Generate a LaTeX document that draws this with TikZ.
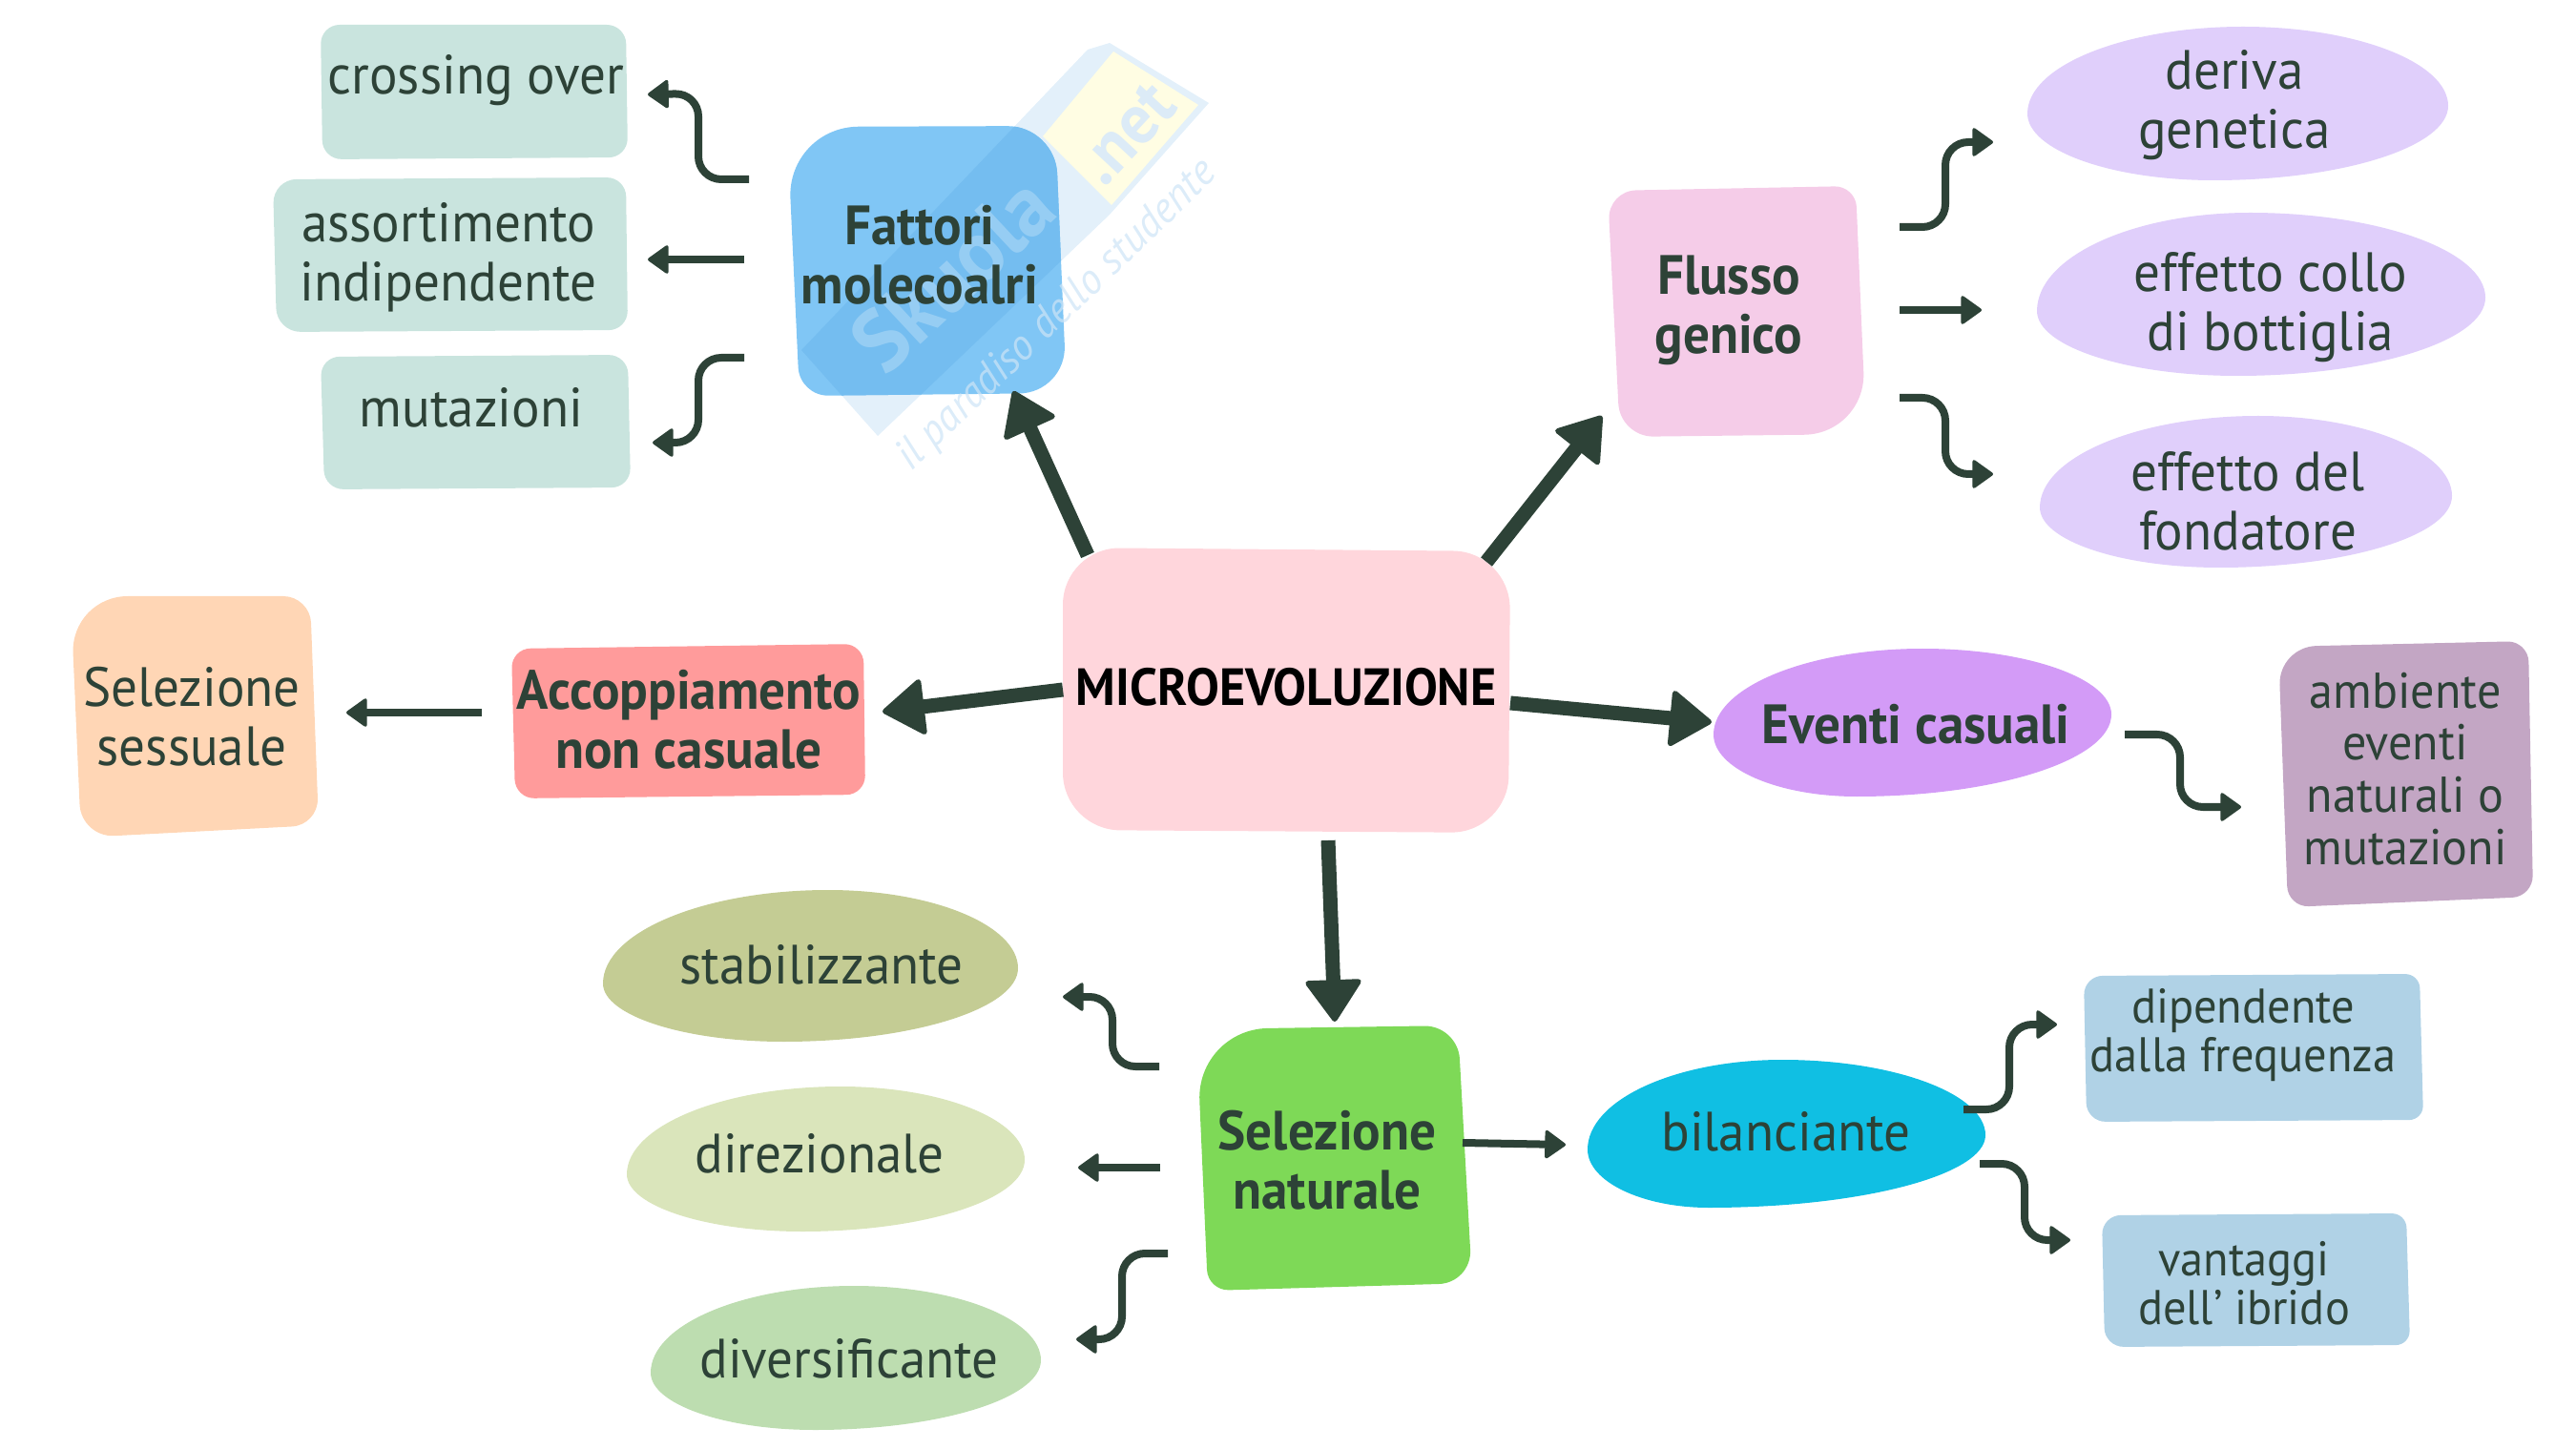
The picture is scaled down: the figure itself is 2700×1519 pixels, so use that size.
\documentclass[tikz,border=0pt]{standalone}
\usepackage{fontspec}
\setmainfont{PT Sans}[FakeStretch=0.95]
\usetikzlibrary{arrows.meta,calc}
\definecolor{ink}{HTML}{2D4237}
\definecolor{mint}{HTML}{C9E4DE}
\definecolor{cfat}{HTML}{80C6F5}
\definecolor{cfatd}{HTML}{74BDF0}
\definecolor{cflu}{HTML}{F5CCE8}
\definecolor{cmic}{HTML}{FFD6DC}
\definecolor{clil}{HTML}{E0CFFB}
\definecolor{ceve}{HTML}{D39BF7}
\definecolor{cacc}{HTML}{FF9B9B}
\definecolor{csns}{HTML}{FFD6B5}
\definecolor{camb}{HTML}{C3A6C4}
\definecolor{cblu}{HTML}{B0D2E6}
\definecolor{cbil}{HTML}{10BFE3}
\definecolor{cnat}{HTML}{7ED957}
\definecolor{csta}{HTML}{C4CC94}
\definecolor{cdir}{HTML}{DAE5BB}
\definecolor{cdvr}{HTML}{BDDDB0}
\definecolor{wmb}{HTML}{E3F0FA}
\definecolor{wmy}{HTML}{FFFDE3}
\definecolor{wmt}{HTML}{DCEBF7}
% rbox: colour, radii TL TR BR BL, corners TL TR BR BL
\newcommand\rbox[9]{\path[fill=#1] ($(#6)!.5!(#7)$) [rounded corners=#3] -- (#7) [rounded corners=#4] -- (#8) [rounded corners=#5] -- (#9) [rounded corners=#2] -- (#6) [sharp corners] -- cycle;}
% egg: colour, left, top, right, bottom extremes
\newcommand\egg[9]{\fill[#1] (#2,#3)
 .. controls (#2,{#3+.55*(#5-#3)}) and ({#4+.55*(#2-#4)},#5) .. (#4,#5)
 .. controls ({#4+.55*(#6-#4)},#5) and (#6,{#7+.55*(#5-#7)}) .. (#6,#7)
 .. controls (#6,{#7+.55*(#9-#7)}) and ({#8+.55*(#6-#8)},#9) .. (#8,#9)
 .. controls ({#8+.55*(#2-#8)},#9) and (#2,{#3+.55*(#9-#3)}) .. (#2,#3) -- cycle;}
\newcommand\wmpoly{(840,367) -- (1140,52) -- (1163,45) -- (1267,108) -- (1163,225) -- (920,457) -- cycle}
\tikzset{
 lbl/.style={text=ink,align=center,inner sep=0pt,font=\fontsize{16.5}{17.6}\selectfont},
 head/.style={lbl,font=\bfseries\fontsize{16.5}{17.6}\selectfont},
 small/.style={lbl,font=\fontsize{14.5}{14.6}\selectfont},
 bigarr/.style={draw=ink,line width=.15cm,-{Triangle[width=.62cm,length=.46cm,round,line width=1.6pt]}},
 thinarr/.style={draw=ink,line width=.08cm,rounded corners=.24cm,-{Triangle[width=.32cm,length=.23cm,round,line width=1pt]}},
 wmbig/.style={font=\bfseries\fontsize{26}{26}\selectfont,inner sep=0pt},
 wmsmall/.style={font=\itshape\fontsize{13}{13}\selectfont,inner sep=0pt},
}
\begin{document}
\begin{tikzpicture}[x=0.01cm,y=-0.01cm]
\useasboundingbox (0,0) rectangle (2700,1519);
% watermark on the page
\fill[wmb] \wmpoly;
\fill[wmy] (1167,54) -- (1256,110) -- (1165,215) -- (1093,143) -- cycle;
\node[wmbig,text=wmt,rotate=47,font=\bfseries\fontsize{21}{21}\selectfont] (wmnet) at (1180,140) {.net};
% shapes
\rbox{mint}{.2cm}{.2cm}{.2cm}{.2cm}{336,26}{656,26}{658,165}{338,167}
\rbox{mint}{.25cm}{.2cm}{.2cm}{.25cm}{286,188}{656,186}{658,346}{290,348}
\rbox{mint}{.2cm}{.2cm}{.2cm}{.2cm}{336,374}{658,372}{661,511}{340,513}
\rbox{cfat}{.75cm}{.5cm}{.5cm}{.3cm}{825,133}{1106,132}{1118,412}{838,415}
\begin{scope}
\clip ($(825,133)!.5!(1106,132)$) [rounded corners=.5cm] -- (1106,132) [rounded corners=.5cm] -- (1118,412) [rounded corners=.3cm] -- (838,415) [rounded corners=.75cm] -- (825,133) [sharp corners] -- cycle;
\fill[cfatd] \wmpoly;
\end{scope}
\node[wmbig,text=white,text opacity=.25,rotate=43] (wmsk) at (998,287) {Skuola};
\node[wmsmall,text=wmt!85!cfatd,text opacity=.7,rotate=44] (wmpar) at (1108,331) {il paradiso dello studente};
\rbox{cflu}{.3cm}{.22cm}{.65cm}{.35cm}{1685,200}{1945,195}{1956,455}{1698,458}
\rbox{cmic}{.6cm}{.6cm}{.6cm}{.6cm}{1114,574}{1583,578}{1581,873}{1114,870}
\rbox{cacc}{.2cm}{.2cm}{.2cm}{.2cm}{536,680}{905,675}{907,833}{540,837}
\rbox{csns}{.6cm}{.28cm}{.28cm}{.35cm}{74,625}{325,625}{334,865}{85,878}
\rbox{camb}{.4cm}{.22cm}{.22cm}{.22cm}{2388,678}{2650,672}{2655,940}{2398,951}
\rbox{cnat}{.75cm}{.35cm}{.35cm}{.22cm}{1254,1079}{1528,1075}{1543,1345}{1266,1353}
\rbox{cblu}{.2cm}{.15cm}{.15cm}{.2cm}{2184,1023}{2536,1021}{2540,1174}{2187,1176}
\rbox{cblu}{.2cm}{.15cm}{.15cm}{.2cm}{2203,1274}{2522,1272}{2526,1410}{2206,1412}
\egg{clil}{2125}{119}{2351}{28}{2566}{111}{2320}{189}
\egg{clil}{2135}{326}{2358}{223}{2605}{312}{2345}{394}
\egg{clil}{2138}{532}{2367}{436}{2570}{520}{2326}{595}
\egg{ceve}{1796}{770}{2015}{680}{2213}{749}{1946}{835}
\egg{cbil}{1664}{1205}{1868}{1111}{2081}{1190}{1791}{1266}
\egg{csta}{632}{1031}{868}{933}{1067}{1015}{821}{1092}
\egg{cdir}{657}{1231}{881}{1139}{1074}{1216}{841}{1291}
\egg{cdvr}{682}{1439}{895}{1348}{1091}{1426}{854}{1499}
% labels
\node[lbl] (cro) at (499,84) {crossing over};
\node[lbl] (ass) at (470,270) {assortimento\\indipendente};
\node[lbl] (mut) at (494,427) {mutazioni};
\node[head] (fat) at (964,267) {Fattori\\molecoalri};
\node[head] (flu) at (1812,325) {Flusso\\genico};
\node[lbl] (der) at (2342,110) {deriva\\genetica};
\node[lbl] (col) at (2380,322) {effetto collo\\di bottiglia};
\node[lbl] (fon) at (2356,525) {effetto del\\fondatore};
\node[head,text=black,font=\bfseries\fontsize{15.6}{17}\selectfont] (mic) at (1348,720) {MICROEVOLUZIONE};
\node[head] (acc) at (722,754) {Accoppiamento\\non casuale};
\node[lbl] (sns) at (201,751) {Selezione\\sessuale};
\node[head] (eve) at (2008,759) {Eventi casuali};
\node[lbl,font=\fontsize{15}{15.6}\selectfont] (amb) at (2521,806) {ambiente\\eventi\\naturali o\\mutazioni};
\node[head] (nat) at (1391,1216) {Selezione\\naturale};
\node[lbl] (bil) at (1872,1186) {bilanciante};
\node[lbl] (sta) at (861,1011) {stabilizzante};
\node[lbl] (dir) at (859,1209) {direzionale};
\node[lbl] (dvr) at (890,1424) {diversificante};
\node[small] (dip) at (2351,1085) {dipendente\\dalla frequenza};
\node[small] (van) at (2352,1345) {vantaggi\\dell' ibrido};
% big connectors
\draw[bigarr] ([shift={(1140-1348,582-720)}]mic.center) -- ([shift={(1062-964,410-267)}]fat.center);
\draw[bigarr] ([shift={(1558-1348,589-720)}]mic.center) -- ([shift={(1679-1812,436-325)}]flu.center);
\draw[bigarr] ([shift={(1114-1348,723-720)}]mic.center) -- ([shift={(925-722,746-754)}]acc.center);
\draw[bigarr] ([shift={(1583-1348,737-720)}]mic.center) -- ([shift={(1794-2008,757-759)}]eve.center);
\draw[bigarr] ([shift={(1392-1348,881-720)}]mic.center) -- ([shift={(1399-1391,1071-1216)}]nat.center);
% thin connectors
\draw[thinarr] ([shift={(785-964,188-267)}]fat.center) -- (732,188) -- (732,98) -- ([shift={(679-499,99-84)}]cro.center);
\draw[thinarr] ([shift={(780-964,272-267)}]fat.center) -- ([shift={(679-470,272-270)}]ass.center);
\draw[thinarr] ([shift={(780-964,375-267)}]fat.center) -- (732,375) -- (732,464) -- ([shift={(684-494,464-427)}]mut.center);
\draw[thinarr] ([shift={(1991-1812,238-325)}]flu.center) -- (2039,238) -- (2039,149) -- ([shift={(2089-2342,149-110)}]der.center);
\draw[thinarr] ([shift={(1991-1812,325-325)}]flu.center) -- ([shift={(2077-2380,325-322)}]col.center);
\draw[thinarr] ([shift={(1991-1812,417-325)}]flu.center) -- (2039,417) -- (2039,497) -- ([shift={(2089-2356,497-525)}]fon.center);
\draw[thinarr] ([shift={(505-722,747-754)}]acc.center) -- ([shift={(363-201,747-751)}]sns.center);
\draw[thinarr] ([shift={(2227-2008,770-759)}]eve.center) -- (2285,770) -- (2285,846) -- ([shift={(2349-2521,846-806)}]amb.center);
\draw[thinarr] ([shift={(1215-1391,1118-1216)}]nat.center) -- (1166,1118) -- (1166,1045) -- ([shift={(1114-861,1045-1011)}]sta.center);
\draw[thinarr] ([shift={(1216-1391,1224-1216)}]nat.center) -- ([shift={(1130-859,1224-1209)}]dir.center);
\draw[thinarr] ([shift={(1224-1391,1314-1216)}]nat.center) -- (1176,1314) -- (1176,1404) -- ([shift={(1128-890,1404-1424)}]dvr.center);
\draw[thinarr] ([shift={(1533-1391,1198-1216)}]nat.center) -- ([shift={(1641-1872,1200-1186)}]bil.center);
\draw[thinarr] ([shift={(2058-1872,1163-1186)}]bil.center) -- (2106,1163) -- (2106,1074) -- ([shift={(2156-2351,1074-1085)}]dip.center);
\draw[thinarr] ([shift={(2075-1872,1220-1186)}]bil.center) -- (2122,1220) -- (2122,1300) -- ([shift={(2170-2352,1300-1345)}]van.center);
\end{tikzpicture}
\end{document}
